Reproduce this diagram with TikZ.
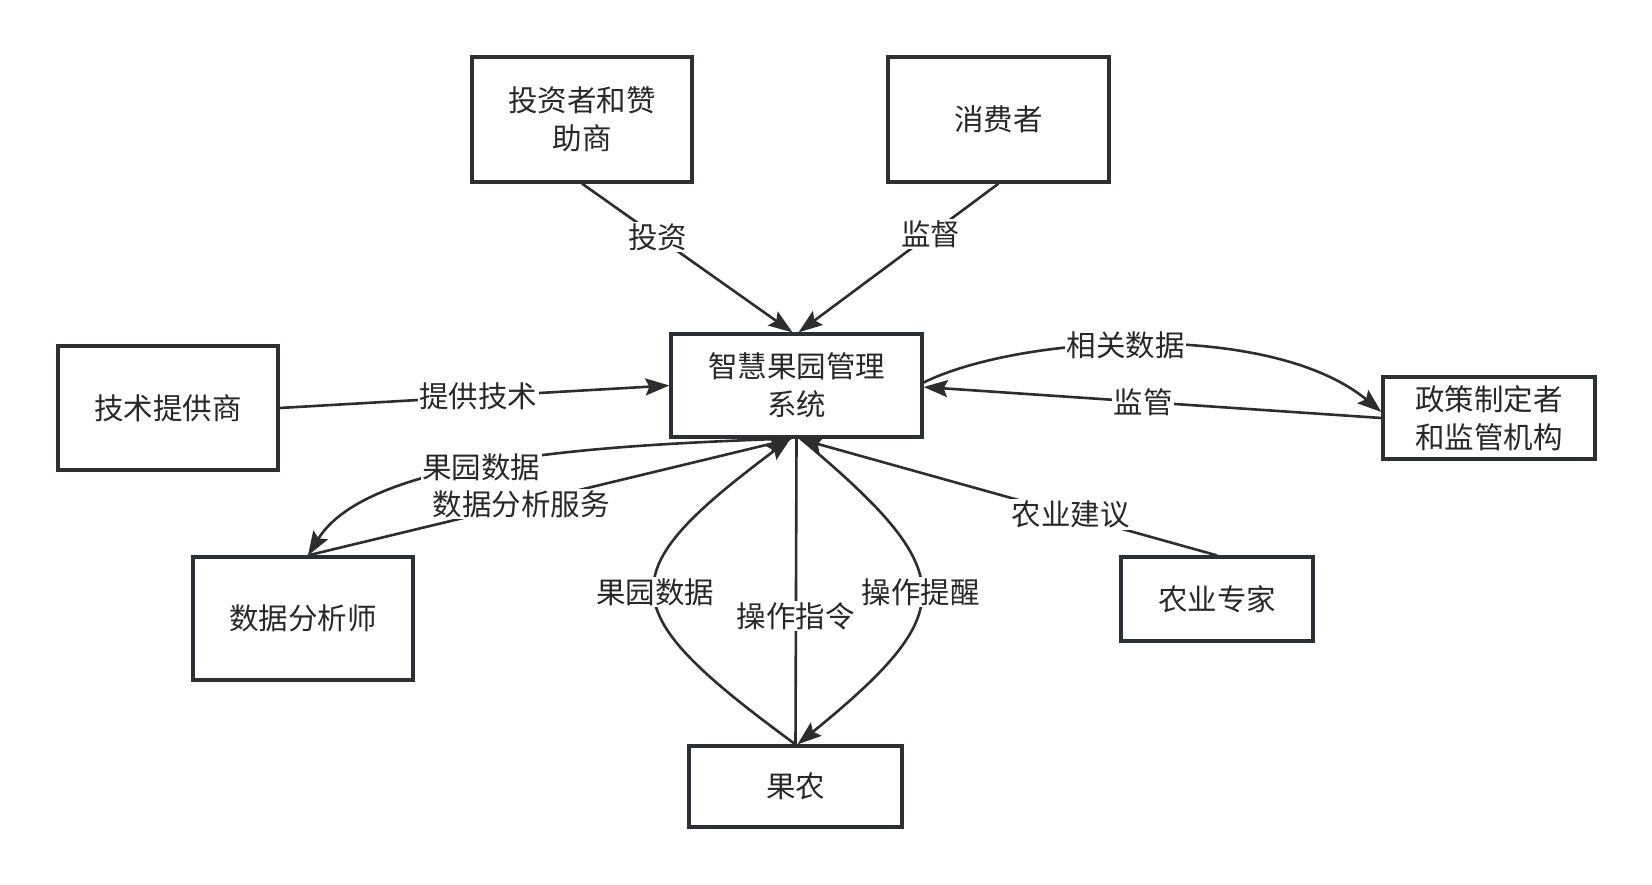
\documentclass[tikz,border=0pt]{standalone}
\usepackage{fontspec}
\setmainfont{Noto Sans CJK SC}
\usetikzlibrary{arrows.meta}
\definecolor{boxc}{RGB}{43,48,54}
\definecolor{linec}{RGB}{45,45,45}
\definecolor{txtc}{RGB}{40,40,40}
\begin{document}
\begin{tikzpicture}[x=1pt,y=-1pt,
  ent/.style={draw=boxc, line width=3.2pt, fill=white, inner sep=0pt, align=center, text=txtc, font=\fontsize{29.5}{38}\selectfont},
  flow/.style={draw=linec, line width=2.6pt, -{Stealth[length=24pt,width=17pt,inset=4pt]}},
  plain/.style={draw=linec, line width=2.6pt},
  lbl/.style={fill=white, inner sep=1.5pt, text=txtc, font=\fontsize{29.5}{36}\selectfont}]
\useasboundingbox (0,0) rectangle (1652,885);
\fill[white] (0,0) rectangle (1652,885);

\node[ent, minimum width=220pt, minimum height=125pt] (inv) at (582,119.5) {投资者和赞\\助商};
\node[ent, minimum width=221pt, minimum height=125pt] (con) at (998.5,119.5) {消费者};
\node[ent, minimum width=220pt, minimum height=124pt] (tech) at (168,408) {技术提供商};
\node[ent, minimum width=251pt, minimum height=103pt] (sys) at (796.5,385.5) {智慧果园管理\\系统};
\node[ent, minimum width=212pt, minimum height=82pt] (pol) at (1489,418) {政策制定者\\和监管机构};
\node[ent, minimum width=220pt, minimum height=123pt] (ana) at (303,618.5) {数据分析师};
\node[ent, minimum width=213pt, minimum height=81pt] (farm) at (795.5,786.5) {果农};
\node[ent, minimum width=192pt, minimum height=84pt] (exp) at (1217,599) {农业专家};

\draw[flow] (inv.south) -- node[lbl,pos=0.36]{投资} ([xshift=-4pt]sys.north);
\draw[flow] (con.south) -- node[lbl,pos=0.34]{监督} ([xshift=2pt]sys.north);
\draw[flow] (tech.east) -- node[lbl,pos=0.51]{提供技术} (sys.west);
\draw[flow] ([yshift=3pt]sys.east) .. controls (1020,335) and (1270,320) .. node[lbl,pos=0.46]{相关数据} ([yshift=6pt]pol.west);
\draw[flow] (pol.west) -- node[lbl,pos=0.52]{监管} ([yshift=-1.5pt]sys.east);
\draw[flow] ([xshift=-11pt]sys.south) .. controls (620,445) and (370,455) .. node[lbl,pos=0.55]{果园数据} ([xshift=5pt]ana.north);
\draw[flow] ([xshift=5pt]ana.north) -- node[lbl,pos=0.44]{数据分析服务} ([xshift=-4pt]sys.south);
\draw[flow] (farm.north) .. controls (611,609) and (608,575) .. node[lbl,pos=0.5]{果园数据} ([xshift=-6pt]sys.south);
\draw[plain] (sys.south) -- node[lbl,pos=0.58]{操作指令} (farm.north);
\draw[flow] ([xshift=4pt]sys.south) .. controls (961,573) and (961,611) .. node[lbl,pos=0.5]{操作提醒} ([xshift=2pt]farm.north);
\draw[flow] (exp.north) -- node[lbl,pos=0.35]{农业建议} ([xshift=2pt]sys.south);
\end{tikzpicture}
\end{document}
